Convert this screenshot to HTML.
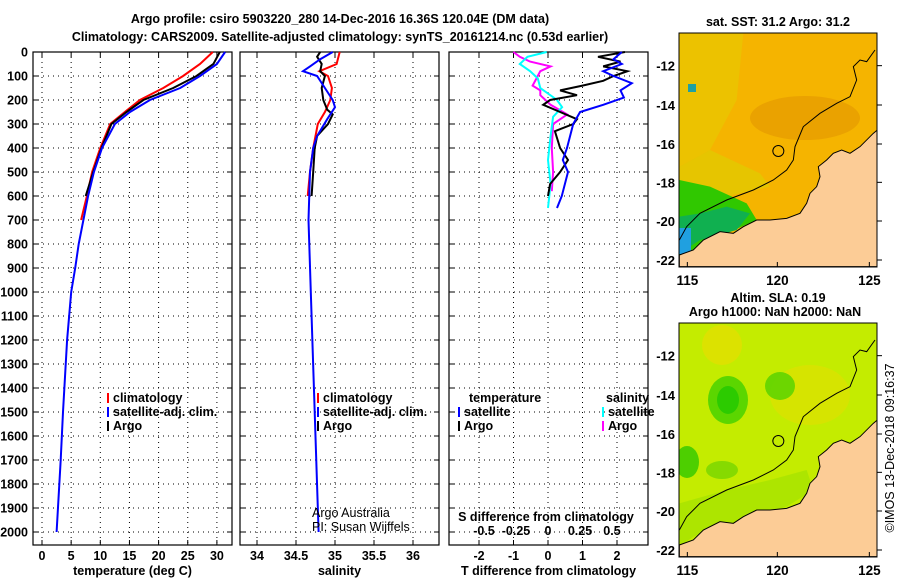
<!DOCTYPE html>
<html><head><meta charset="utf-8"><style>
body{margin:0;background:#fff;width:900px;height:580px;overflow:hidden;font-family:"Liberation Sans",sans-serif}
svg text{font-family:"Liberation Sans",sans-serif;font-weight:bold;font-size:12.5px;fill:#000}
</style></head><body>
<svg id="fig" width="900" height="580" viewBox="0 0 900 580" xmlns="http://www.w3.org/2000/svg">
<text x="340" y="23" text-anchor="middle" font-size="14">Argo profile: csiro 5903220_280 14-Dec-2016 16.36S 120.04E (DM data)</text>
<text x="340" y="41" text-anchor="middle" font-size="14">Climatology: CARS2009. Satellite-adjusted climatology: synTS_20161214.nc (0.53d earlier)</text>
<g id="plots"></g>
<g id="maps"></g>
<text transform="translate(894,448) rotate(-90)" text-anchor="middle" style="font-weight:normal">©IMOS 13-Dec-2018 09:16:37</text>
</svg>
<script>
// ---------- data ----------
const depthTicks=[0,100,200,300,400,500,600,700,800,900,1000,1100,1200,1300,1400,1500,1600,1700,1800,1900,2000];
const tempTicks=[0,5,10,15,20,25,30];
const salTicks=[34,34.5,35,35.5,36];
const tdiffTicks=[-2,-1,0,1,2];
const sdiffTicks=[-0.5,-0.25,0,0.25,0.5];
const tempClimDepth=[0,50,100,150,200,250,300,400,500,600,700];
const tempClim=[29.3,27.1,24.2,20.8,16.8,14.2,11.7,10.0,8.6,7.7,6.7];
const tempSatDepth=[0,50,100,150,200,250,300,400,500,600,700,800,900,1000,1200,1500,1700,2000];
const tempSat=[31.4,30.0,27.1,23.7,18.5,15.1,12.5,10.3,8.9,7.9,7.1,6.3,5.7,5.0,4.3,3.6,3.2,2.5];
const tempArgoDepth=[0,50,100,150,200,250,300,400,500,600];
const tempArgo=[30.5,29.4,26.5,22.5,17.4,14.5,11.9,10.2,8.8,7.5];
const salClimDepth=[0,50,80,100,150,200,250,300,400,500,600];
const salClim=[35.06,35.02,34.8,34.91,34.96,34.94,34.87,34.78,34.72,34.68,34.65];
const salSatDepth=[0,30,60,80,100,150,200,230,280,350,400,500,700,1000,1500,2000];
const salSat=[34.97,34.81,34.68,34.59,34.77,34.87,34.97,35.0,34.9,34.77,34.72,34.68,34.66,34.69,34.74,34.79];
const salArgoDepth=[0,20,50,80,100,150,200,240,260,300,350,400,500,600];
const salArgo=[34.81,34.77,34.83,34.81,34.87,34.83,34.85,34.9,34.97,34.91,34.77,34.74,34.72,34.7];
const tdArgoDepth=[0,20,40,60,80,100,120,140,160,180,200,220,250,280,300,330,400,450,500,550,600];
const tdArgo=[2.23,1.45,2.1,1.6,2.3,1.9,1.6,1.0,0.35,0.84,0.06,-0.14,0.35,0.84,0.73,0.2,0.35,0.58,0.35,0.06,0.0];
const tdSatDepth=[0,30,50,80,100,130,160,190,220,250,300,400,450,500,600,650];
const tdSat=[2.14,1.9,2.14,1.6,1.9,2.43,2.1,2.2,1.6,0.93,0.73,0.55,0.43,0.58,0.4,0.26];
const sdArgoDepth=[0,20,40,60,80,110,140,160,180,220,260,300,400,500,580];
const sdArgo=[-0.27,-0.22,-0.14,0.02,-0.06,-0.09,-0.12,-0.06,-0.06,0.02,0.15,0.04,0.03,0.04,0.03];
const sdSatDepth=[0,20,50,80,110,150,200,230,270,350,450,550,650];
const sdSat=[-0.01,-0.16,-0.22,-0.14,-0.08,-0.06,0.07,0.11,0.04,0.02,0.0,0.02,0.0];

const NS="http://www.w3.org/2000/svg";
function el(tag,attrs,parent){const e=document.createElementNS(NS,tag);for(const k in attrs)e.setAttribute(k,attrs[k]);(parent||document.getElementById('plots')).appendChild(e);return e;}
const Y0=52,YPX=0.24,TOP=52,BOT=545;
const yS=d=>Y0+d*YPX;
const panels=[
 {x0:33,x1:232,f:v=>42+v*5.83,ticks:tempTicks,label:'temperature (deg C)',name:'temperature'},
 {x0:240,x1:439,f:v=>296+(v-34.5)*78,ticks:salTicks,label:'salinity',name:'salinity'},
 {x0:449,x1:648,f:v=>548+v*34.5,ticks:tdiffTicks,label:'T difference from climatology',name:'difference'}
];
const sdx=v=>548+v*128;
panels.forEach((p,i)=>{
 const g=el('g',{});
 
 
 depthTicks.forEach(d=>{
  const gl=el('line',{x1:p.x0,x2:p.x1,y1:yS(d),y2:yS(d),stroke:'#000','stroke-width':1,'stroke-dasharray':'1 4'},g);
  
  
  el('line',{x1:p.x0,x2:p.x0+5,y1:yS(d),y2:yS(d),stroke:'#000'},g);
  el('line',{x1:p.x1-5,x2:p.x1,y1:yS(d),y2:yS(d),stroke:'#000'},g);
  if(i==0){const t=el('text',{x:28,y:yS(d)+4.5,'text-anchor':'end'},g);t.textContent=d;
   
   }
 });
 p.ticks.forEach(v=>{
  const x=p.f(v);
  const gl=el('line',{x1:x,x2:x,y1:TOP,y2:BOT,stroke:'#000','stroke-dasharray':'1 4'},g);
  
  
  el('line',{x1:x,x2:x,y1:BOT-5,y2:BOT,stroke:'#000'},g);
  el('line',{x1:x,x2:x,y1:TOP,y2:TOP+5,stroke:'#000'},g);
  const t=el('text',{x:x,y:BOT+15,'text-anchor':'middle'},g);t.textContent=v;
  
  
 });
 const r=el('rect',{x:p.x0,y:TOP,width:p.x1-p.x0,height:BOT-TOP,fill:'none',stroke:'#000','stroke-width':1.2},g);
 
 
 const xl=el('text',{x:(p.x0+p.x1)/2,y:575,'text-anchor':'middle'},g);xl.textContent=p.label;
 
 
});
sdiffTicks.forEach(v=>{
 const t=el('text',{x:sdx(v),y:535,'text-anchor':'middle'});t.textContent=v;
 
 
});
const sdt=el('text',{x:546,y:521,'text-anchor':'middle'});sdt.textContent='S difference from climatology';



function line(depths,vals,fx,color,name){
 const pts=depths.map((d,i)=>fx(vals[i]).toFixed(1)+','+yS(d).toFixed(1)).join(' ');
 const l=el('polyline',{points:pts,fill:'none',stroke:color,'stroke-width':2});
 
 
}
const P=panels;
line(tempClimDepth,tempClim,P[0].f,'#f00','temp-climatology-line');
line(tempArgoDepth,tempArgo,P[0].f,'#000','temp-argo-line');
line(tempSatDepth,tempSat,P[0].f,'#00f','temp-satellite-line');
line(salClimDepth,salClim,P[1].f,'#f00','sal-climatology-line');
line(salArgoDepth,salArgo,P[1].f,'#000','sal-argo-line');
line(salSatDepth,salSat,P[1].f,'#00f','sal-satellite-line');
line(sdArgoDepth,sdArgo,sdx,'#f0f','sdiff-argo-line');
line(sdSatDepth,sdSat,sdx,'#0ff','sdiff-satellite-line');
line(tdArgoDepth,tdArgo,P[2].f,'#000','tdiff-argo-line');
line(tdSatDepth,tdSat,P[2].f,'#00f','tdiff-satellite-line');

function legend(x,y,color,label,name){
 if(color){el('line',{x1:x,x2:x,y1:y-9,y2:y+1,stroke:color,'stroke-width':2});}
 const t=el('text',{x:x+5,y:y});t.textContent=label;
 
 
}
legend(108,402,'#f00','climatology','legend-climatology');
legend(108,416,'#00f','satellite-adj. clim.','legend-satellite');
legend(108,430,'#000','Argo','legend-argo');
legend(318,402,'#f00','climatology','legend-climatology');
legend(318,416,'#00f','satellite-adj. clim.','legend-satellite');
legend(318,430,'#000','Argo','legend-argo');
legend(464,402,null,'temperature','legend-temperature-title');
legend(459,416,'#00f','satellite','legend-t-satellite');
legend(459,430,'#000','Argo','legend-t-argo');
legend(601,402,null,'salinity','legend-salinity-title');
legend(603,416,'#0ff','satellite','legend-s-satellite');
legend(603,430,'#f0f','Argo','legend-s-argo');
const a1=el('text',{x:312,y:517,style:'font-weight:normal'});a1.textContent='Argo Australia';

const a2=el('text',{x:312,y:531,style:'font-weight:normal'});a2.textContent='PI: Susan Wijffels';


// ---------- maps ----------
const mapsG=document.getElementById('maps');
const land=[[58,765],[100,750],[130,720],[180,695],[220,700],[250,680],[290,660],[330,660],[380,655],[420,640],[440,610],[450,580],[470,560],[480,530],[475,500],[500,480],[520,460],[545,450],[570,460],[600,440],[640,400],[652,390],[652,800],[58,800]];
const iso=[[58,720],[80,680],[120,640],[200,600],[280,570],[340,540],[380,510],[400,480],[405,440],[430,380],[480,340],[530,310],[570,290],[590,240],[580,200],[600,180],[620,185],[645,150]];
function map(oy,title1,title2,kind){
 const g=el('g',{},mapsG);
 
 
 const tx=v=>660+v/3, ty=v=>oy+v/3;
 const poly=(pts,fill,parent,op)=>el('polygon',{points:pts.map(p=>tx(p[0])+','+ty(p[1])).join(' '),fill:fill,opacity:op||1},parent);
 const id='cl'+kind;
 const cp=el('clipPath',{id:id},g);el('rect',{x:679,y:oy+33,width:198,height:234},cp);
 const inner=el('g',{'clip-path':'url(#'+id+')'},g);
 if(kind=='sst'){
  el('rect',{x:679,y:oy+33,width:198,height:234,fill:'#f5b400'},inner);
  poly([[58,100],[250,100],[230,300],[150,450],[58,500]],'#e8c800',inner,0.7);
  poly([[58,500],[150,450],[300,520],[330,560],[58,620]],'#dcd000',inner,0.6);
  el('ellipse',{cx:805,cy:oy+118,rx:55,ry:22,fill:'#e09000',opacity:0.5},inner);
  poly([[58,720],[58,540],[150,560],[260,610],[290,660],[200,700],[58,770]],'#30c800',inner);
  poly([[58,760],[58,650],[120,640],[200,620],[270,640],[230,690],[120,720]],'#10b050',inner);
  el('rect',{x:679,y:oy+228,width:12,height:26,fill:'#20a0e0'},inner);
  el('rect',{x:688,y:oy+84,width:8,height:8,fill:'#20a0a0'},inner);
 } else {
  el('rect',{x:679,y:oy+33,width:198,height:234,fill:'#c4ec00'},inner);
  el('ellipse',{cx:722,cy:oy+55,rx:20,ry:20,fill:'#ecdc00',opacity:0.6},inner);
  el('ellipse',{cx:810,cy:oy+105,rx:40,ry:30,fill:'#e2e000',opacity:0.6},inner);
  el('ellipse',{cx:728,cy:oy+110,rx:20,ry:24,fill:'#50d400',opacity:0.9},inner);
  el('ellipse',{cx:728,cy:oy+110,rx:11,ry:14,fill:'#20c800',opacity:0.8},inner);
  el('ellipse',{cx:780,cy:oy+96,rx:15,ry:14,fill:'#60d400',opacity:0.9},inner);
  el('ellipse',{cx:687,cy:oy+172,rx:12,ry:16,fill:'#40cc00',opacity:0.9},inner);
  el('ellipse',{cx:722,cy:oy+180,rx:16,ry:9,fill:'#80d800',opacity:0.9},inner);
  poly([[58,770],[58,640],[200,600],[330,570],[440,540],[460,600],[380,650],[250,690],[100,740]],'#a8e400',inner,0.8);
 }
 poly(land,'#fccc96',inner).setAttribute('stroke','#000');
 el('polyline',{points:iso.map(p=>tx(p[0])+','+ty(p[1])).join(' '),fill:'none',stroke:'#000','stroke-width':1},inner);
 const ap=el('circle',{cx:tx(355),cy:ty(453),r:5.5,fill:'none',stroke:'#000'},g);
 
 
 el('rect',{x:679,y:oy+33,width:198,height:234,fill:'none',stroke:'#000'},g);
 [[-12,197],[-14,315],[-16,432],[-18,547],[-20,663],[-22,780]].forEach(t=>{
  const yy=ty(t[1]);
  el('line',{x1:877,x2:882,y1:yy,y2:yy,stroke:'#000'},g);
  const lt=el('text',{x:675,y:yy+5,'text-anchor':'end',style:'font-size:13px'},g);lt.textContent=t[0];
  
  
 });
 [[115,82],[120,352],[125,628]].forEach(t=>{
  const xx=tx(t[1]);
  el('line',{x1:xx,x2:xx,y1:oy+267,y2:oy+262,stroke:'#000'},g);
  const lt=el('text',{x:xx,y:oy+285,'text-anchor':'middle',style:'font-size:13.5px'},g);lt.textContent=t[0];
  
  
 });
 const t1=el('text',{x:778,y:oy+(title2?12:26),'text-anchor':'middle'},g);t1.textContent=title1;
 
 
 if(title2){const t2=el('text',{x:775,y:oy+26,'text-anchor':'middle'},g);t2.textContent=title2;
  
  }
}
map(0,'sat. SST: 31.2 Argo: 31.2',null,'sst');
map(290,'Altim. SLA: 0.19','Argo h1000: NaN h2000: NaN','sla');
</script>
</body></html>
